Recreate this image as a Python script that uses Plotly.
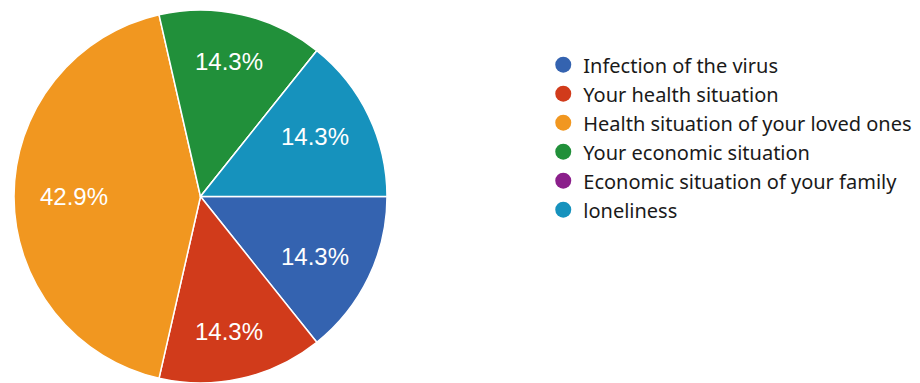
import math
import plotly.graph_objects as go

labels = ["Infection of the virus", "Your health situation",
          "Health situation of your loved ones", "Your economic situation",
          "Economic situation of your family", "loneliness"]
values = [1, 1, 3, 1, 0, 1]
colors = ["#3463B0", "#D13B1B", "#F19720", "#21903A", "#8B1F8B", "#1692BD"]

W, H = 920, 383
dom_x = [0.01522, 0.42065]
dom_y = [0.0, 0.9739]

fig = go.Figure()
fig.add_trace(go.Pie(
    labels=labels, values=values, sort=False, direction="clockwise", rotation=90,
    marker=dict(colors=colors, line=dict(color="white", width=1.5)),
    textinfo="none",
    domain=dict(x=dom_x, y=dom_y),
    showlegend=False, hoverinfo="label+percent",
))

# percentage labels placed inside each slice (derived from the values)
total = sum(values)
cx = (dom_x[0] + dom_x[1]) / 2
cy = (dom_y[0] + dom_y[1]) / 2
rpx = min((dom_x[1] - dom_x[0]) * W, (dom_y[1] - dom_y[0]) * H) / 2
cum = 0.0
for v in values:
    if v > 0:
        mid = (cum + v / 2) / total * 2 * math.pi  # clockwise from 3 o'clock
        ux, uy = math.cos(mid), -math.sin(mid)
        px = cx + 0.68 * rpx * ux / W
        py = cy + 0.74 * rpx * uy / H
        fig.add_annotation(x=px, y=py, xref="paper", yref="paper",
                           xanchor="center", yanchor="middle",
                           text=f"{v / total * 100:.1f}%", showarrow=False,
                           font=dict(color="white", size=24,
                                     family="Liberation Sans, Arial"))
    cum += v

for lab, col in zip(labels, colors):
    fig.add_trace(go.Scatter(
        x=[None], y=[None], mode="markers", name=lab, legendgroup=lab,
        marker=dict(symbol="circle", size=17, color=col),
    ))

fig.update_layout(
    width=W, height=H, margin=dict(l=0, r=0, t=0, b=0),
    paper_bgcolor="white", plot_bgcolor="white",
    xaxis=dict(visible=False), yaxis=dict(visible=False),
    legend=dict(x=0.5905, y=0.882, xanchor="left", yanchor="top",
                font=dict(family="Noto Sans, Lato, sans-serif", size=20, color="#1a1a1a"),
                itemwidth=30, tracegroupgap=0, bgcolor="rgba(0,0,0,0)"),
)
fig.write_html("out.html")
